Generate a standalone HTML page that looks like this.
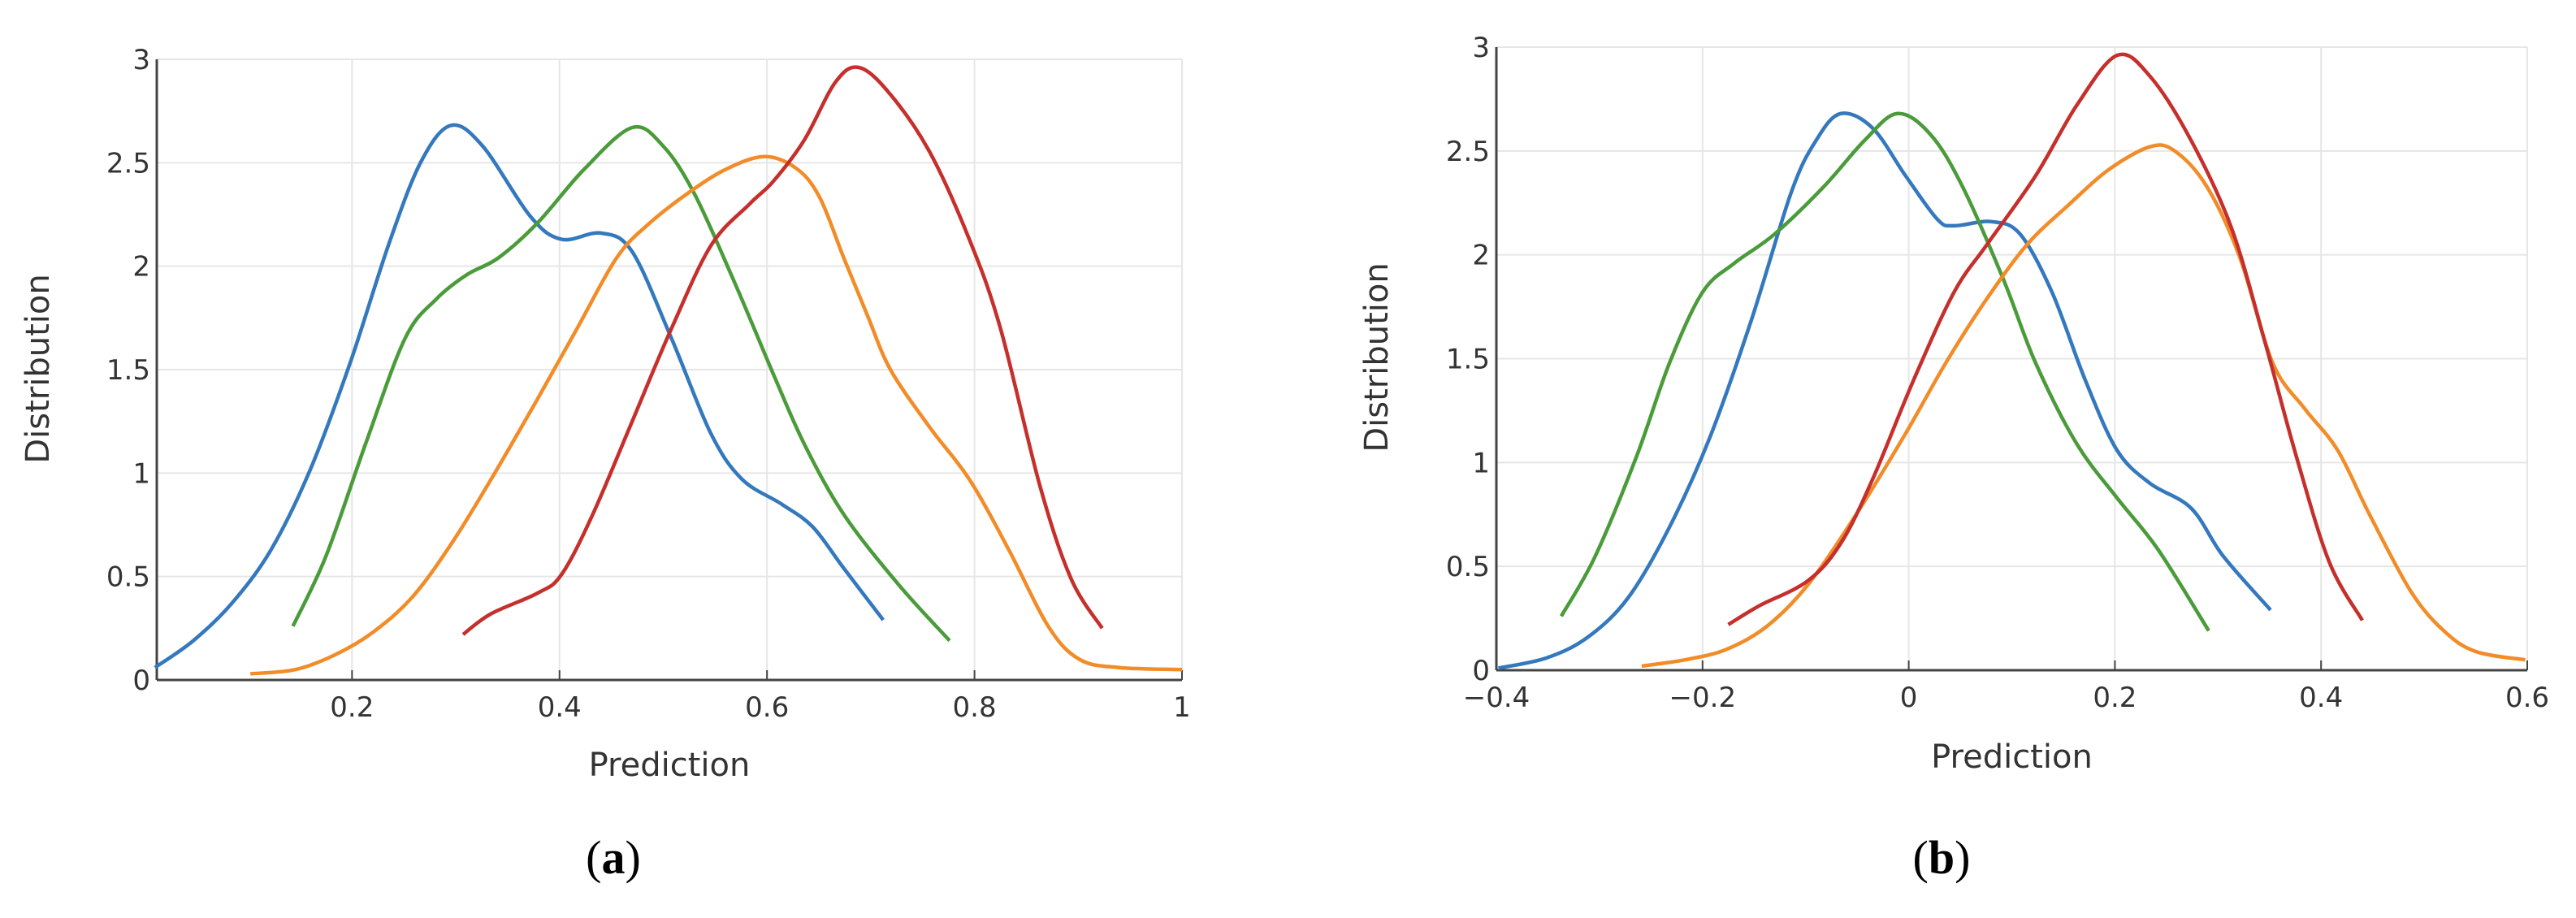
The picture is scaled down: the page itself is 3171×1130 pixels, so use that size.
<!DOCTYPE html>
<html><head><meta charset="utf-8"><style>
body{margin:0;background:#fff;}
svg{display:block;}
text{font-family:"DejaVu Sans","Liberation Sans",sans-serif;fill:#333;}
</style></head><body>
<svg id="chart" width="3171" height="1130" viewBox="0 0 3171 1130" xmlns="http://www.w3.org/2000/svg"></svg>
<script>
// Panel (a) data
const aTicksX = [0.2, 0.4, 0.6, 0.8, 1];
const aTickLabelsX = ["0.2", "0.4", "0.6", "0.8", "1"];
const ticksY = [0, 0.5, 1, 1.5, 2, 2.5, 3];
const tickLabelsY = ["0", "0.5", "1", "1.5", "2", "2.5", "3"];
const aBlueX = [0.01,0.047,0.084,0.122,0.16,0.198,0.235,0.266,0.295,0.326,0.372,0.402,0.44,0.47,0.508,0.546,0.576,0.614,0.644,0.674,0.712];
const aBlueY = [0.06,0.19,0.37,0.63,1.02,1.53,2.1,2.5,2.68,2.58,2.24,2.13,2.16,2.07,1.65,1.19,0.97,0.85,0.74,0.54,0.29];
const aGreenX = [0.143,0.175,0.213,0.251,0.281,0.311,0.341,0.379,0.424,0.47,0.5,0.53,0.568,0.606,0.636,0.674,0.727,0.776];
const aGreenY = [0.26,0.6,1.14,1.65,1.84,1.96,2.04,2.21,2.47,2.67,2.58,2.35,1.93,1.48,1.14,0.8,0.46,0.19];
const aOrangeX = [0.102,0.145,0.183,0.22,0.258,0.296,0.334,0.379,0.417,0.455,0.485,0.523,0.561,0.598,0.629,0.651,0.674,0.697,0.719,0.757,0.795,0.833,0.871,0.901,0.939,1.0];
const aOrangeY = [0.03,0.05,0.12,0.23,0.4,0.66,0.97,1.36,1.7,2.04,2.2,2.35,2.47,2.53,2.47,2.33,2.04,1.76,1.5,1.22,0.97,0.63,0.26,0.1,0.06,0.05];
const aRedX = [0.307,0.334,0.379,0.402,0.432,0.47,0.508,0.546,0.583,0.606,0.636,0.666,0.689,0.719,0.757,0.795,0.825,0.863,0.893,0.923];
const aRedY = [0.22,0.32,0.42,0.51,0.8,1.25,1.7,2.1,2.3,2.41,2.61,2.89,2.96,2.83,2.55,2.13,1.7,0.94,0.49,0.25];
// Panel (b) data
const bTicksX = [-0.4, -0.2, 0, 0.2, 0.4, 0.6];
const bTickLabelsX = ["\u22120.4", "\u22120.2", "0", "0.2", "0.4", "0.6"];
const bBlueX = [-0.398,-0.351,-0.311,-0.272,-0.232,-0.193,-0.153,-0.114,-0.09,-0.066,-0.035,-0.003,0.028,0.044,0.08,0.108,0.139,0.171,0.202,0.234,0.274,0.305,0.351];
const bBlueY = [0.01,0.06,0.16,0.35,0.69,1.12,1.68,2.3,2.55,2.68,2.61,2.38,2.17,2.14,2.16,2.1,1.82,1.4,1.06,0.9,0.78,0.55,0.29];
const bGreenX = [-0.337,-0.304,-0.264,-0.232,-0.2,-0.169,-0.13,-0.082,-0.043,-0.011,0.021,0.052,0.092,0.123,0.163,0.202,0.242,0.291];
const bGreenY = [0.26,0.55,1.03,1.48,1.82,1.96,2.1,2.33,2.55,2.68,2.58,2.33,1.88,1.48,1.09,0.83,0.58,0.19];
const bOrangeX = [-0.259,-0.217,-0.177,-0.138,-0.098,-0.051,-0.003,0.036,0.076,0.115,0.155,0.194,0.234,0.258,0.289,0.321,0.353,0.384,0.416,0.447,0.487,0.519,0.55,0.598];
const bOrangeY = [0.02,0.05,0.1,0.21,0.41,0.75,1.14,1.48,1.79,2.05,2.24,2.41,2.52,2.5,2.33,1.99,1.48,1.26,1.06,0.75,0.38,0.19,0.09,0.05];
const bRedX = [-0.175,-0.145,-0.098,-0.066,-0.035,0.005,0.044,0.076,0.123,0.163,0.202,0.234,0.274,0.313,0.345,0.376,0.408,0.44];
const bRedY = [0.22,0.31,0.43,0.61,0.92,1.4,1.82,2.05,2.38,2.72,2.96,2.86,2.55,2.13,1.59,1.03,0.52,0.24];

const NS = "http://www.w3.org/2000/svg";
const svg = document.getElementById("chart");
function mk(tag, attrs, parent, txt) {
  const e = document.createElementNS(NS, tag);
  for (const k in attrs) e.setAttribute(k, attrs[k]);
  if (txt !== undefined) e.textContent = txt;
  (parent || svg).appendChild(e);
  return e;
}
const COLORS = {blue:"#3478bd", green:"#4a9b3a", orange:"#f28c28", red:"#c52f2c"};

function smoothPath(pts) {
  let d = "M" + pts[0][0].toFixed(1) + "," + pts[0][1].toFixed(1);
  for (let i = 0; i < pts.length - 1; i++) {
    const p0 = pts[Math.max(0, i - 1)], p1 = pts[i], p2 = pts[i + 1], p3 = pts[Math.min(pts.length - 1, i + 2)];
    const c1x = p1[0] + (p2[0] - p0[0]) / 6, c1y = p1[1] + (p2[1] - p0[1]) / 6;
    const c2x = p2[0] - (p3[0] - p1[0]) / 6, c2y = p2[1] - (p3[1] - p1[1]) / 6;
    d += " C" + c1x.toFixed(1) + "," + c1y.toFixed(1) + " " + c2x.toFixed(1) + "," + c2y.toFixed(1) + " " + p2[0].toFixed(1) + "," + p2[1].toFixed(1);
  }
  return d;
}

function panel(cfg) {
  const g = mk("g", {});
  
  
  const xs = v => cfg.x0 + (v - cfg.xmin) / (cfg.xmax - cfg.xmin) * (cfg.x1 - cfg.x0);
  const ys = v => cfg.y0 - v / 3 * (cfg.y0 - cfg.y3);
  // grid
  cfg.ticksX.forEach((t, i) => {
    const gl = mk("line", {x1: xs(t), x2: xs(t), y1: cfg.y3, y2: cfg.y0, stroke: "#e6e6e6", "stroke-width": 2}, g);
    
    
    const tm = mk("line", {x1: xs(t), x2: xs(t), y1: cfg.y0, y2: cfg.y0 - 12, stroke: "#444", "stroke-width": 2}, g);
    
    
    const tl = mk("text", {x: xs(t), y: cfg.y0 + 45, "font-size": 34, "text-anchor": "middle"}, g, cfg.tickLabelsX[i]);
    
    
  });
  ticksY.forEach((t, i) => {
    if (t > 0) {
      const gl = mk("line", {x1: cfg.x0, x2: cfg.x1, y1: ys(t), y2: ys(t), stroke: "#e6e6e6", "stroke-width": 2}, g);
      
      
    }
    const tl = mk("text", {x: cfg.x0 - 8, y: ys(t) + 12, "font-size": 34, "text-anchor": "end"}, g, tickLabelsY[i]);
    
    
  });
  const ax = mk("line", {x1: cfg.x0, x2: cfg.x1, y1: cfg.y0, y2: cfg.y0, stroke: "#444", "stroke-width": 3}, g);
  
  
  const ay = mk("line", {x1: cfg.x0, x2: cfg.x0, y1: cfg.y0, y2: cfg.y3, stroke: "#444", "stroke-width": 3}, g);
  
  
  cfg.series.forEach(s => {
    const pts = s.x.map((v, i) => [xs(v), ys(s.y[i])]);
    const p = mk("path", {d: smoothPath(pts), fill: "none", stroke: COLORS[s.c], "stroke-width": 4.5, "stroke-linejoin": "round", "stroke-linecap": "butt"}, g);
    
    
  });
  const xt = mk("text", {x: (cfg.x0 + cfg.x1) / 2, y: cfg.xTitleY, "font-size": 40, "text-anchor": "middle"}, g, "Prediction");
  
  
  const yt = mk("text", {x: 0, y: 0, "font-size": 40, "text-anchor": "middle", transform: "translate(" + cfg.yTitleX + "," + cfg.yTitleY + ") rotate(-90)"}, g, "Distribution");
  
  
  const cap = mk("text", {x: cfg.capX, y: 1075, "font-size": 58, "text-anchor": "middle", style: "font-family:'Liberation Serif',serif;fill:#000"}, g);
  
  
  mk("tspan", {}, cap, "(");
  mk("tspan", {"font-weight": "bold"}, cap, cfg.letter);
  mk("tspan", {}, cap, ")");
}

panel({name: "panel-a", letter: "a", x0: 193, x1: 1455, xmin: 0.0118, xmax: 1, y0: 837, y3: 73,
  ticksX: aTicksX, tickLabelsX: aTickLabelsX, xTitleY: 955, yTitleX: 60, yTitleY: 454, capX: 755,
  series: [{x: aBlueX, y: aBlueY, c: "blue"}, {x: aGreenX, y: aGreenY, c: "green"}, {x: aOrangeX, y: aOrangeY, c: "orange"}, {x: aRedX, y: aRedY, c: "red"}]});
panel({name: "panel-b", letter: "b", x0: 1842, x1: 3111, xmin: -0.4, xmax: 0.6, y0: 825, y3: 58,
  ticksX: bTicksX, tickLabelsX: bTickLabelsX, xTitleY: 945, yTitleX: 1708, yTitleY: 440, capX: 2390,
  series: [{x: bBlueX, y: bBlueY, c: "blue"}, {x: bGreenX, y: bGreenY, c: "green"}, {x: bOrangeX, y: bOrangeY, c: "orange"}, {x: bRedX, y: bRedY, c: "red"}]});
</script>
</body></html>
